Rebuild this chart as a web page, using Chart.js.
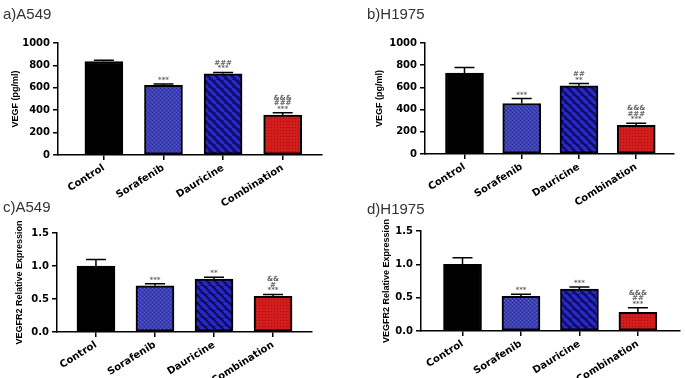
<!DOCTYPE html>
<html>
<head>
<meta charset="utf-8">
<script src="https://cdn.jsdelivr.net/npm/chart.js@4"></script>
<style>
  body { margin: 0; background: #fff; }
  #wrap { position: relative; width: 685px; height: 378px; overflow: hidden; }
  canvas { position: absolute; }
  .ttl { position: absolute; font: 15px "Liberation Sans", Arial, sans-serif; color: #333; line-height: 15px; }
</style>
</head>
<body>
<div id="wrap">
  <canvas id="cA"></canvas>
  <canvas id="cB"></canvas>
  <canvas id="cC"></canvas>
  <canvas id="cD"></canvas>
  <div class="ttl" style="left:3px;top:6px">a)A549</div>
  <div class="ttl" style="left:367px;top:6px">b)H1975</div>
  <div class="ttl" style="left:3px;top:199px">c)A549</div>
  <div class="ttl" style="left:367px;top:201px">d)H1975</div>
</div>
<script>
// groups
const categories = ['Control', 'Sorafenib', 'Dauricine', 'Combination'];

// VEGF (pg/ml), mean and SEM
const vegfA549 = [835, 622, 725, 357];
const vegfA549Err = [10, 12, 12, 20];
const vegfH1975 = [730, 455, 615, 258];
const vegfH1975Err = [50, 45, 20, 20];

// VEGFR2 relative expression
const vegfr2A549 = [1.0, 0.70, 0.80, 0.54];
const vegfr2A549Err = [0.10, 0.03, 0.03, 0.03];
const vegfr2H1975 = [1.0, 0.52, 0.63, 0.28];
const vegfr2H1975Err = [0.10, 0.03, 0.03, 0.07];

// significance marks, bottom line first
const sigVegfA549 = [[], ['***'], ['***', '###'], ['***', '###', '&&&']];
const sigVegfH1975 = [[], ['***'], ['**', '##'], ['***', '###', '&&&']];
const sigR2A549 = [[], ['***'], ['**'], ['***', '#', '&&']];
const sigR2H1975 = [[], ['***'], ['***'], ['***', '##', '&&&']];

// tick labels
const yTicksVegf = [0, 200, 400, 600, 800, 1000];
const yTicksR2 = [0, 0.5, 1.0, 1.5];

// fills
function tile(size, draw) {
  const c = document.createElement('canvas');
  c.width = size; c.height = size;
  draw(c.getContext('2d'), size);
  return document.createElement('canvas').getContext('2d').createPattern(c, 'repeat');
}
const sorafFill = tile(4, (g, s) => {
  g.fillStyle = '#3d40bd'; g.fillRect(0, 0, s, s);
  g.fillStyle = '#2b2d95';
  g.fillRect(0, 0, 1, 1); g.fillRect(2, 2, 1, 1);
  g.fillStyle = '#5558d0';
  g.fillRect(2, 0, 1, 1); g.fillRect(0, 2, 1, 1);
});
const daurFill = tile(8, (g, s) => {
  g.fillStyle = '#10105a'; g.fillRect(0, 0, s, s);
  g.strokeStyle = '#2a2acc'; g.lineWidth = 3.2;
  for (let k = -1; k <= 1; k++) {
    g.beginPath(); g.moveTo(k * s, 0); g.lineTo(k * s + s, s); g.stroke();
  }
});
const combFill = tile(3, (g, s) => {
  g.fillStyle = '#d31c1c'; g.fillRect(0, 0, s, s);
  g.fillStyle = '#a80f0f'; g.fillRect(1, 1, 1, 1);
});
const barFills = ['#000000', sorafFill, daurFill, combFill];

const errorBars = {
  id: 'errorBars',
  afterDatasetsDraw(chart, args, opts) {
    const g = chart.ctx;
    const y = chart.scales.y;
    const meta = chart.getDatasetMeta(0);
    g.save();
    g.strokeStyle = '#000';
    g.lineWidth = 1.5;
    meta.data.forEach((bar, i) => {
      const top = y.getPixelForValue(opts.values[i] + opts.errors[i]);
      g.beginPath();
      g.moveTo(bar.x, bar.y);
      g.lineTo(bar.x, top);
      g.moveTo(bar.x - 10, top);
      g.lineTo(bar.x + 10, top);
      g.stroke();
      g.fillStyle = '#666';
      g.font = 'bold 7px "DejaVu Sans", sans-serif';
      g.textAlign = 'center';
      g.textBaseline = 'alphabetic';
      opts.marks[i].forEach((m, k) => {
        g.fillText(m, bar.x, top - 2 - k * 5.5);
      });
    });
    g.restore();
  }
};

function makePanel(id, p) {
  const cv = document.getElementById(id);
  cv.width = p.w; cv.height = p.h;
  cv.style.left = p.left + 'px';
  cv.style.top = p.top + 'px';
  new Chart(cv, {
    type: 'bar',
    data: {
      datasets: [{
        data: p.values.map((v, i) => ({ x: i, y: v })),
        backgroundColor: barFills,
        borderColor: '#000',
        borderWidth: 2,
        borderSkipped: false,
        barThickness: 38
      }]
    },
    options: {
      responsive: false,
      animation: false,
      devicePixelRatio: 1,
      layout: { padding: { left: 0, top: p.ct, right: p.w - p.cr, bottom: 0 } },
      plugins: {
        legend: { display: false },
        tooltip: { enabled: false },
        errorBars: { values: p.values, errors: p.errors, marks: p.marks }
      },
      scales: {
        x: {
          type: 'linear',
          offset: false,
          min: p.xmin, max: p.xmax,
          afterBuildTicks: s => { s.ticks = categories.map((c, i) => ({ value: i })); },
          afterFit: s => { s.height = p.h - p.cb; },
          ticks: {
            autoSkip: false, minRotation: 32, maxRotation: 32, padding: 2,
            color: '#000',
            font: { family: '"DejaVu Sans", sans-serif', weight: 'bold', size: 10 },
            callback: v => categories[v]
          },
          grid: { offset: false, drawOnChartArea: false, tickLength: 5, color: '#000', lineWidth: 1.5 },
          border: { color: '#000', width: 1.5 }
        },
        y: {
          min: p.yTicks[0], max: p.yTicks[p.yTicks.length - 1],
          afterBuildTicks: s => { s.ticks = p.yTicks.map(v => ({ value: v })); },
          afterFit: s => { s.width = p.cl; },
          ticks: {
            padding: 3, color: '#000',
            font: { family: '"DejaVu Sans", sans-serif', weight: 'bold', size: 10 },
            callback: v => p.dec ? v.toFixed(1) : String(v)
          },
          grid: { drawOnChartArea: false, tickLength: 5, color: '#000', lineWidth: 1.5 },
          border: { color: '#000', width: 1.5 },
          title: {
            display: true, text: p.yTitle, color: '#000',
            font: { family: '"Liberation Sans Narrow", "Liberation Sans", sans-serif', weight: 'bold', size: 9 },
            padding: { top: p.titleX - 5, bottom: 0 }
          }
        }
      }
    },
    plugins: [errorBars]
  });
}

makePanel('cA', { left: 0, top: 0, w: 340, h: 215, cl: 58, ct: 43, cr: 322, cb: 155,
  xmin: -0.77, xmax: 3.66, values: vegfA549, errors: vegfA549Err, marks: sigVegfA549,
  yTicks: yTicksVegf, dec: false, yTitle: 'VEGF (pg/ml)', titleX: 15 });
makePanel('cB', { left: 340, top: 0, w: 345, h: 215, cl: 85, ct: 43, cr: 334, cb: 154,
  xmin: -0.69, xmax: 3.66, values: vegfH1975, errors: vegfH1975Err, marks: sigVegfH1975,
  yTicks: yTicksVegf, dec: false, yTitle: 'VEGF (pg/ml)', titleX: 39 });
makePanel('cC', { left: 0, top: 190, w: 340, h: 188, cl: 57, ct: 43, cr: 312, cb: 142,
  xmin: -0.66, xmax: 3.66, values: vegfr2A549, errors: vegfr2A549Err, marks: sigR2A549,
  yTicks: yTicksR2, dec: true, yTitle: 'VEGFR2 Relative Expression', titleX: 19 });
makePanel('cD', { left: 340, top: 190, w: 345, h: 188, cl: 81, ct: 41, cr: 340, cb: 141,
  xmin: -0.71, xmax: 3.72, values: vegfr2H1975, errors: vegfr2H1975Err, marks: sigR2H1975,
  yTicks: yTicksR2, dec: true, yTitle: 'VEGFR2 Relative Expression', titleX: 46 });
</script>
</body>
</html>
